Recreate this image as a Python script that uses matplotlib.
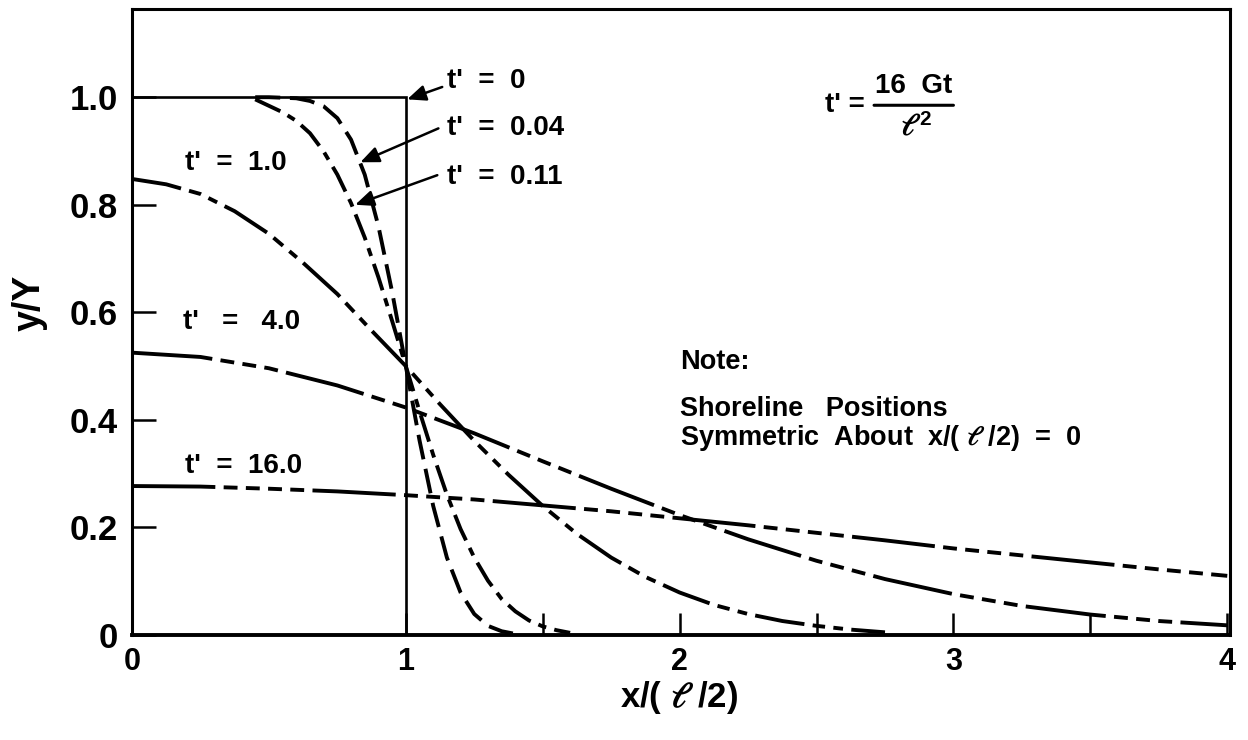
import matplotlib
matplotlib.use("Agg")
import matplotlib.pyplot as plt

plt.rcParams['font.family'] = ['Liberation Sans', 'DejaVu Sans']
plt.rcParams['font.weight'] = 'bold'
plt.rcParams['mathtext.fontset'] = 'stix'
plt.rcParams['lines.scale_dashes'] = False

## shoreline position y/Y, one array per t'
x_t0 = [0.0, 1.0, 1.0]
y_t0 = [1.0, 1.0, 0.0]

x_t004 = [0.45, 0.50, 0.55, 0.60, 0.65, 0.70, 0.75, 0.80, 0.85, 0.90, 0.95, 1.00,
          1.05, 1.10, 1.15, 1.20, 1.25, 1.30, 1.35, 1.40]
y_t004 = [1.000, 1.000, 0.999, 0.998, 0.993, 0.983, 0.961, 0.921, 0.856, 0.760, 0.638, 0.500,
          0.362, 0.240, 0.144, 0.079, 0.039, 0.017, 0.007, 0.002]

x_t011 = [0.45, 0.50, 0.55, 0.60, 0.65, 0.70, 0.75, 0.80, 0.85, 0.90, 0.95, 1.00,
          1.05, 1.10, 1.15, 1.20, 1.25, 1.30, 1.35, 1.40, 1.45, 1.50, 1.55, 1.60]
y_t011 = [0.996, 0.984, 0.972, 0.956, 0.933, 0.899, 0.856, 0.803, 0.739, 0.665, 0.584, 0.500,
          0.416, 0.335, 0.261, 0.197, 0.144, 0.101, 0.067, 0.044, 0.027, 0.016, 0.009, 0.004]

x_t1 = [0.0, 0.125, 0.25, 0.375, 0.5, 0.625, 0.75, 0.875, 1.0, 1.125, 1.25, 1.375,
        1.5, 1.625, 1.75, 1.875, 2.0, 2.125, 2.25, 2.375, 2.5, 2.625, 2.75]
y_t1 = [0.848, 0.838, 0.820, 0.788, 0.746, 0.692, 0.634, 0.566, 0.500, 0.429, 0.361, 0.298,
        0.240, 0.188, 0.144, 0.108, 0.079, 0.056, 0.039, 0.026, 0.017, 0.010, 0.005]

x_t4 = [0.0, 0.25, 0.5, 0.75, 1.0, 1.25, 1.5, 1.75, 2.0, 2.25, 2.5, 2.75,
        3.0, 3.25, 3.5, 3.75, 4.0]
y_t4 = [0.525, 0.517, 0.496, 0.464, 0.423, 0.375, 0.323, 0.272, 0.223, 0.178, 0.138, 0.104,
        0.076, 0.054, 0.038, 0.026, 0.018]

x_t16 = [0.0, 0.25, 0.5, 0.75, 1.0, 1.25, 1.5, 1.75, 2.0, 2.25, 2.5, 2.75,
         3.0, 3.25, 3.5, 3.75, 4.0]
y_t16 = [0.277, 0.276, 0.272, 0.267, 0.260, 0.252, 0.241, 0.230, 0.217, 0.204, 0.190, 0.176,
         0.161, 0.148, 0.135, 0.122, 0.110]

fig = plt.figure(figsize=(12.48, 7.40), dpi=100)
ax = fig.add_axes([132/1248, 105/740, (1230-132)/1248, (635-9)/740])

lw = 2.8
ax.plot(x_t0, y_t0, color='k', lw=1.9, solid_joinstyle='miter')
ax.plot(x_t004, y_t004, color='k', lw=lw, dashes=(18, 7))
ax.plot(x_t011, y_t011, color='k', lw=lw, dashes=(20, 6, 6, 6))
ax.plot(x_t1, y_t1, color='k', lw=lw, dashes=(36, 6, 9, 6, 7, 6))
ax.plot(x_t4, y_t4, color='k', lw=lw, dashes=(58, 6, 10, 6, 10, 6, 10, 6))
ax.plot(x_t16, y_t16, color='k', lw=lw, dashes=(60, 6, 10, 6, 10, 6, 10, 6, 10, 6))

ax.set_xlim(0, 4.01)
ax.set_ylim(0, 1.164)

ax.set_xticks([0, 1, 2, 3, 4])
ax.set_xticklabels(['0', '1', '2', '3', '4'])
ax.set_xticks([1.5, 2.5, 3.5], minor=True)
ax.set_yticks([0, 0.2, 0.4, 0.6, 0.8, 1.0])
ax.set_yticklabels(['0', '0.2', '0.4', '0.6', '0.8', '1.0'])
ax.tick_params(axis='both', which='both', direction='in', width=1.8, color='k')
ax.tick_params(axis='x', which='both', length=16, pad=9, labelsize=22)
ax.tick_params(axis='y', which='both', length=17, pad=10, labelsize=25)
for lab in ax.get_xticklabels() + ax.get_yticklabels():
    lab.set_fontweight('bold')

for side in ['left', 'top', 'right']:
    ax.spines[side].set_linewidth(2.2)
ax.spines['bottom'].set_linewidth(2.8)

ax.set_xlabel(r"x/( $\ell$ /2)", fontsize=25, fontweight='bold')
ax.xaxis.set_label_coords(0.498, -0.07)
ax.set_ylabel("y/Y", fontsize=27, fontweight='bold')
ax.yaxis.set_label_coords(-0.077, 0.53)

# curve labels
fs = 20
ax.text(1.152, 1.03, "t'  =  0", fontsize=fs, va='center', ha='left')
ax.text(1.152, 0.942, "t'  =  0.04", fontsize=fs, va='center', ha='left')
ax.text(1.152, 0.851, "t'  =  0.11", fontsize=fs, va='center', ha='left')
ax.text(0.194, 0.877, "t'  =  1.0", fontsize=fs, va='center', ha='left')
ax.text(0.186, 0.582, "t'   =   4.0", fontsize=fs, va='center', ha='left')
ax.text(0.194, 0.314, "t'  =  16.0", fontsize=fs, va='center', ha='left')

arrow = dict(arrowstyle='-|>,head_length=0.7,head_width=0.3', color='k', lw=1.8,
             mutation_scale=16, shrinkA=0, shrinkB=0)
ax.annotate('', xy=(1.005, 0.996), xytext=(1.133, 1.019), arrowprops=arrow)
ax.annotate('', xy=(0.834, 0.879), xytext=(1.119, 0.942), arrowprops=arrow)
ax.annotate('', xy=(0.815, 0.800), xytext=(1.115, 0.855), arrowprops=arrow)

# definition of t'
ax.text(2.53, 0.985, "t' =", fontsize=fs, va='center', ha='left')
ax.text(2.855, 1.02, "16  Gt", fontsize=fs, va='center', ha='center')
ax.annotate('', xy=(3.0, 0.985), xytext=(2.71, 0.985),
            arrowprops=dict(arrowstyle='-', color='k', lw=2.2, shrinkA=0, shrinkB=0))
ax.text(2.845, 0.944, r"$\ell$", fontsize=22, va='center', ha='center')
ax.text(2.875, 0.958, "2", fontsize=15, va='center', ha='left')

# note
fn = 19.5
ax.text(2.0, 0.507, "Note:", fontsize=fn, va='center', ha='left')
ax.text(2.0, 0.42, "Shoreline   Positions", fontsize=fn, va='center', ha='left')
ax.text(2.0, 0.366, r"Symmetric  About  x/( $\ell$ /2)  =  0", fontsize=fn, va='center', ha='left')

fig.savefig("out.png", dpi=100)
